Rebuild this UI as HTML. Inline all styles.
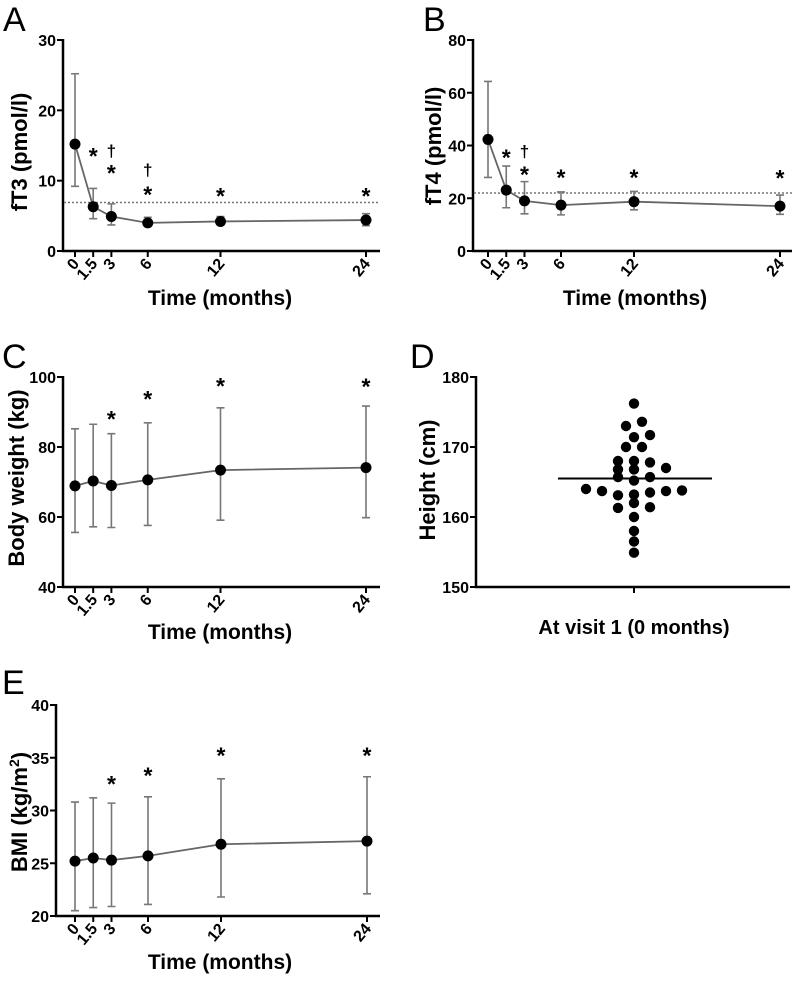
<!DOCTYPE html>
<html><head><meta charset="utf-8"><style>
html,body{margin:0;padding:0;background:#fff;}
svg{display:block;font-family:"Liberation Sans",Arial,sans-serif;}
.tk{font-size:16px;font-weight:bold;}
.ttl{font-size:21px;font-weight:bold;}
.yttl{font-size:22px;font-weight:bold;}
.let{font-size:34px;}
</style></head><body>
<svg id="fig" width="795" height="981" viewBox="0 0 795 981"></svg>
<script>
const months = [0, 1.5, 3, 6, 12, 24];
const monthLabels = ["0", "1.5", "3", "6", "12", "24"];
// A fT3
const ft3Mean = [15.2, 6.3, 4.9, 4.0, 4.2, 4.4];
const ft3Upper = [25.2, 8.9, 6.7, 4.8, 4.9, 5.3];
const ft3Lower = [9.2, 4.6, 3.7, 3.5, 3.7, 3.6];
const ft3Ref = 6.9;
const ft3Ticks = [0, 10, 20, 30];
const ft3Stars = [[1.5, 13.8], [3, 11.4], [6, 8.3], [12, 8.1], [24, 8.1]];
const ft3Daggers = [[3, 14.3], [6, 11.6]];
// B fT4
const ft4Mean = [42.3, 23.1, 19.0, 17.4, 18.7, 17.0];
const ft4Upper = [64.3, 32.2, 26.3, 22.4, 22.6, 21.2];
const ft4Lower = [27.9, 16.4, 14.1, 13.7, 15.6, 13.9];
const ft4Ref = 22;
const ft4Ticks = [0, 20, 40, 60, 80];
const ft4Stars = [[1.5, 36.3], [3, 29.7], [6, 28.7], [12, 28.7], [24, 28.4]];
const ft4Daggers = [[3, 37.9]];
// C weight
const wMean = [68.9, 70.3, 69.0, 70.6, 73.4, 74.1];
const wUpper = [85.2, 86.5, 83.8, 86.9, 91.2, 91.7];
const wLower = [55.6, 57.2, 57.0, 57.6, 59.1, 59.8];
const wTicks = [40, 60, 80, 100];
const wStars = [[3, 88.6], [6, 94.3], [12, 98], [24, 97.8]];
// E BMI
const bMean = [25.2, 25.5, 25.3, 25.7, 26.8, 27.1];
const bUpper = [30.8, 31.2, 30.7, 31.3, 33.0, 33.2];
const bLower = [20.5, 20.8, 20.9, 21.1, 21.8, 22.1];
const bTicks = [20, 25, 30, 35, 40];
const bStars = [[3, 32.7], [6, 33.5], [12, 35.4], [24, 35.4]];
// D height
const heights = [176.2,173.0,173.6,171.4,171.7,170.0,170.0,168.0,168.0,167.8,166.8,166.8,167.0,165.7,165.2,165.7,164.0,163.7,163.1,163.2,163.5,163.7,163.8,161.3,162.0,161.4,160.0,158.0,156.5,154.9];
const heightCols = [0,-1,1,0,2,-1,1,-2,0,2,-2,0,4,-2,0,2,-6,-4,-2,0,2,4,6,-2,0,2,0,0,0,0];
const heightMean = 165.5;
const hTicks = [150, 160, 170, 180];

const NS = "http://www.w3.org/2000/svg";
const svg = document.getElementById("fig");
function el(tag, attrs, parent, txt) {
  const e = document.createElementNS(NS, tag);
  for (const k in attrs) e.setAttribute(k, attrs[k]);
  if (txt !== undefined) e.textContent = txt;
  (parent || svg).appendChild(e);
  return e;
}

function panel(c) {
  const g = el("g", {});
  
  
  const sy = v => c.yBot - (v - c.ymin) / (c.ymax - c.ymin) * (c.yBot - c.yTop);
  const sx = m => c.x0 + m / 24 * (c.x24 - c.x0);
  const lt = el("text", {x: c.letX, y: c.letY, class: "let"}, g, c.letter);
  
  
  const ya = el("line", {x1: c.ax, y1: c.yTop - 1, x2: c.ax, y2: c.yBot + 1, stroke: "#000", "stroke-width": 2.5}, g);
  
  
  const xa = el("line", {x1: c.ax - 1, y1: c.yBot, x2: c.xEnd, y2: c.yBot, stroke: "#000", "stroke-width": 2.5}, g);
  
  
  c.ticks.forEach(t => {
    const y = sy(t);
    el("line", {x1: c.ax - 6, y1: y, x2: c.ax, y2: y, stroke: "#000", "stroke-width": 2}, g);
    const tl = el("text", {x: c.ax - 7, y: y + 6, "text-anchor": "end", class: "tk"}, g, String(t));
    
    
  });
  const yt = el("text", {x: 0, y: 0, "text-anchor": "middle", class: "yttl", transform: `translate(${c.ylx},${c.yly}) rotate(-90)`}, g);
  
  
  if (c.ytitleHtml) { c.ytitleHtml(yt); } else yt.textContent = c.ytitle;
  if (c.d) { c.d(g, sy); return; }
  months.forEach((m, i) => {
    const x = sx(m);
    el("line", {x1: x, y1: c.yBot, x2: x, y2: c.yBot + 6, stroke: "#000", "stroke-width": 2}, g);
    const tl = el("text", {x: 0, y: 0, "text-anchor": "end", class: "tk", transform: `translate(${x + 5},${c.yBot + 13}) rotate(-50)`}, g, monthLabels[i]);
    
    
  });
  const xt = el("text", {x: c.xtx, y: c.xty, "text-anchor": "middle", class: "ttl"}, g, "Time (months)");
  
  
  if (c.ref !== undefined) {
    const r = el("line", {x1: c.ax + 1, y1: sy(c.ref), x2: c.xEnd, y2: sy(c.ref), stroke: "#777", "stroke-width": 1.5, "stroke-dasharray": "2,2"}, g);
    
    
  }
  months.forEach((m, i) => {
    const x = sx(m), yu = sy(c.upper[i]), yl = sy(c.lower[i]);
    const eb = el("path", {d: `M${x},${yu}V${yl}M${x - 4},${yu}H${x + 4}M${x - 4},${yl}H${x + 4}`, stroke: "#777", "stroke-width": 1.6, fill: "none"}, g);
    
    
  });
  const line = el("polyline", {points: months.map((m, i) => sx(m) + "," + sy(c.mean[i])).join(" "), fill: "none", stroke: "#666", "stroke-width": 1.8}, g);
  
  
  months.forEach((m, i) => {
    const p = el("circle", {cx: sx(m), cy: sy(c.mean[i]), r: 5.5, fill: "#000"}, g);
    
    
  });
  (c.stars || []).forEach(s => {
    const t = el("text", {x: sx(s[0]), y: sy(s[1]) + 10, "text-anchor": "middle", style: "font-size:23px;font-weight:bold"}, g, "*");
    
    
  });
  (c.daggers || []).forEach(s => {
    const t = el("text", {x: sx(s[0]), y: sy(s[1]) + 6, "text-anchor": "middle", style: "font-size:17px;font-weight:bold"}, g, "†");
    
    
  });
}

panel({name: "panel-a-ft3", letter: "A", letX: 3, letY: 31, ax: 63, yTop: 40, yBot: 251, xEnd: 380, x0: 75, x24: 366, ymin: 0, ymax: 30, ticks: ft3Ticks, ylx: 27, yly: 152, ytitle: "fT3 (pmol/l)", xtx: 220, xty: 305, mean: ft3Mean, upper: ft3Upper, lower: ft3Lower, ref: ft3Ref, stars: ft3Stars, daggers: ft3Daggers});
panel({name: "panel-b-ft4", letter: "B", letX: 423, letY: 31, ax: 473, yTop: 40, yBot: 251, xEnd: 792, x0: 488, x24: 780, ymin: 0, ymax: 80, ticks: ft4Ticks, ylx: 441, yly: 146, ytitle: "fT4 (pmol/l)", xtx: 635, xty: 305, mean: ft4Mean, upper: ft4Upper, lower: ft4Lower, ref: ft4Ref, stars: ft4Stars, daggers: ft4Daggers});
panel({name: "panel-c-weight", letter: "C", letX: 2, letY: 368, ax: 63, yTop: 377, yBot: 587, xEnd: 380, x0: 75, x24: 366, ymin: 40, ymax: 100, ticks: wTicks, ylx: 24, yly: 478, ytitle: "Body weight (kg)", xtx: 220, xty: 639, mean: wMean, upper: wUpper, lower: wLower, stars: wStars});
panel({name: "panel-e-bmi", letter: "E", letX: 2, letY: 694, ax: 56, yTop: 705, yBot: 916, xEnd: 380, x0: 75, x24: 367, ymin: 20, ymax: 40, ticks: bTicks, ylx: 27, yly: 812, ytitleHtml: t => { t.textContent = "BMI (kg/m"; el("tspan", {dy: -8, style: "font-size:14px"}, t, "2"); el("tspan", {dy: 8}, t, ")"); }, xtx: 220, xty: 969, mean: bMean, upper: bUpper, lower: bLower, stars: bStars});
panel({name: "panel-d-height", letter: "D", letX: 410, letY: 368, ax: 476, yTop: 377, yBot: 587, xEnd: 790, ymin: 150, ymax: 180, ticks: hTicks, ylx: 435, yly: 480, ytitle: "Height (cm)",
  d: (g, sy) => {
    const cx = 634;
    el("line", {x1: cx, y1: 587, x2: cx, y2: 593, stroke: "#000", "stroke-width": 2}, g);
    const xt = el("text", {x: cx, y: 634, "text-anchor": "middle", style: "font-size:20px;font-weight:bold"}, g, "At visit 1 (0 months)");
    
    
    const ml = el("line", {x1: 558, y1: sy(heightMean), x2: 712, y2: sy(heightMean), stroke: "#000", "stroke-width": 2}, g);
    
    
    heights.forEach((h, i) => {
      const p = el("circle", {cx: cx + heightCols[i] * 8, cy: sy(h), r: 5.2, fill: "#000"}, g);
      
      
    });
  }});
</script>
</body></html>
